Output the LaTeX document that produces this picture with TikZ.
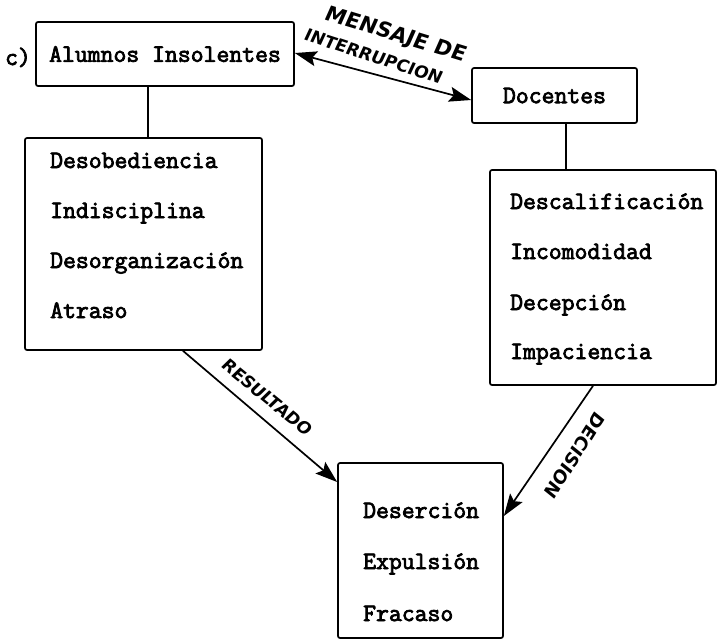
\documentclass[tikz,border=0pt]{standalone}
\usepackage{fontspec}
\newfontfamily\hand[FakeSlant=0.12]{DejaVu Sans}
\newfontfamily\tw[FakeBold=3]{Latin Modern Mono}
\usetikzlibrary{arrows.meta}
\begin{document}
\begin{tikzpicture}[x=1pt,y=-1pt,
  box/.style={draw, line width=1.7pt, rounded corners=2pt, inner sep=0pt},
  txt/.style={font=\fontsize{25}{28}\selectfont\tw, inner sep=0pt},
  item/.style={txt, anchor=base west},
  conn/.style={line width=1.7pt},
  tip/.tip={Stealth[length=22pt,width=15pt,inset=4pt]},
  arr/.style={line width=1.7pt, -tip},
  darr/.style={line width=1.7pt, tip-tip},
  lbl/.style={inner sep=0pt}
]
\useasboundingbox (0,0) rectangle (718,641);

% top boxes
\node[box, txt, minimum width=258pt, minimum height=64pt, text depth=0pt] (A) at (165,54) {Alumnos Insolentes};
\node[txt, anchor=base] (c) at (18,65) {c)};
\node[box, txt, minimum width=165pt, minimum height=55pt, text depth=0pt] (D) at (554.5,95.5) {Docentes};

% list boxes
\node[box, minimum width=237pt, minimum height=212pt] (L) at (143.5,244) {};
\node[item] (l1) at (50,168) {Desobediencia};
\node[item] (l2) at (50,218) {Indisciplina};
\node[item] (l3) at (50,268) {Desorganización};
\node[item] (l4) at (50,318) {Atraso};

\node[box, minimum width=226pt, minimum height=215pt] (R) at (603,277.5) {};
\node[item] (r1) at (510,209) {Descalificación};
\node[item] (r2) at (510,259) {Incomodidad};
\node[item] (r3) at (510,310) {Decepción};
\node[item] (r4) at (510,359) {Impaciencia};

\node[box, minimum width=165pt, minimum height=175pt] (B) at (420.5,550.5) {};
\node[item] (b1) at (363,518) {Deserción};
\node[item] (b2) at (363,569) {Expulsión};
\node[item] (b3) at (363,621) {Fracaso};

% connectors
\draw[conn] (148,0 |- A.south) -- (148,0 |- L.north);
\draw[conn] (566,0 |- D.south) -- (566,0 |- R.north);
\draw[darr] (A.east |- 0,53) -- (D.west |- 0,100);
\draw[arr] (183,0 |- L.south) -- (B.west |- 0,482);
\draw[arr] (593,0 |- R.south) -- (B.east |- 0,516);

% handwritten labels
\node[lbl, font=\hand\bfseries\fontsize{21}{23}\selectfont, rotate=-17] (m1) at (395,35) {MENSAJE DE};
\node[lbl, font=\hand\bfseries\fontsize{17}{19}\selectfont, rotate=-18] (m2) at (373,56) {INTERRUPCION};
\node[lbl, font=\hand\bfseries\fontsize{17}{19}\selectfont, rotate=-39] (res) at (267,397) {RESULTADO};
\node[lbl, font=\hand\bfseries\fontsize{18}{20}\selectfont, rotate=-122] (dec) at (575,455) {DECISION};
\end{tikzpicture}
\end{document}
